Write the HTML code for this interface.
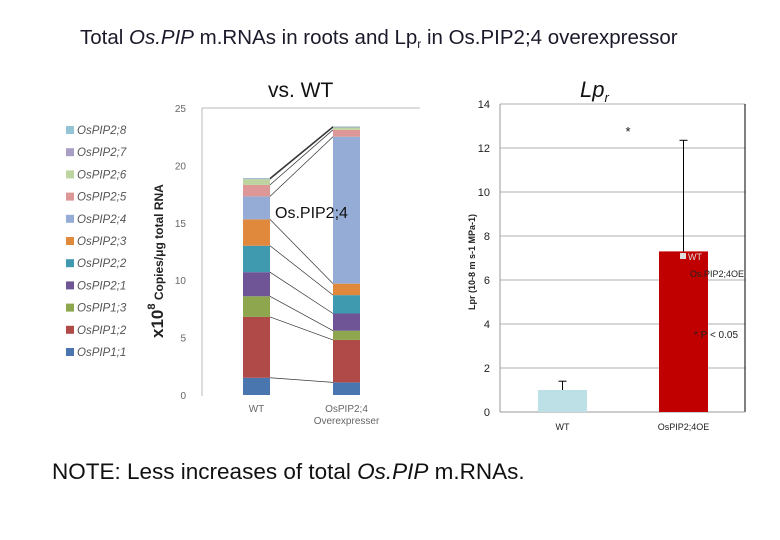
<!DOCTYPE html>
<html><head><meta charset="utf-8">
<style>
body{margin:0;background:#fff;width:780px;height:540px;overflow:hidden;font-family:"Liberation Sans",sans-serif}
svg{display:block}
</style></head>
<body>
<svg id="s" width="780" height="540" xmlns="http://www.w3.org/2000/svg">
<text x="80" y="44" font-size="20.5" fill="#1a1a2a" font-family="Liberation Sans, sans-serif">Total <tspan font-style="italic">Os.PIP</tspan> m.RNAs in roots and Lp<tspan font-size="12" dy="4">r</tspan><tspan dy="-4"> in Os.PIP2;4 overexpressor</tspan></text>
<text x="268" y="97" font-size="21" fill="#111">vs. WT</text>
<text x="580" y="97" font-size="22" font-style="italic" fill="#111">Lp<tspan font-size="13" dy="5">r</tspan></text>
<g id="left"></g>
<g id="right"></g>
<text x="52" y="479" font-size="22.5" fill="#111">NOTE: Less increases of total <tspan font-style="italic">Os.PIP</tspan> m.RNAs.</text>
</svg>
<script>
const genes=["OsPIP1;1","OsPIP1;2","OsPIP1;3","OsPIP2;1","OsPIP2;2","OsPIP2;3","OsPIP2;4","OsPIP2;5","OsPIP2;6","OsPIP2;7","OsPIP2;8"];
const colors=["#4a76b0","#b04a48","#8ea64e","#6f5596","#3f9aaf","#e0883c","#95add6","#dc9796","#bdd4a0","#a99ec4","#92c6d6"];
const wtValues=[1.5,5.3,1.8,2.1,2.3,2.3,2.0,1.0,0.5,0.05,0.05];
const oeValues=[1.1,3.7,0.8,1.5,1.6,1.0,12.8,0.6,0.2,0.05,0.05];
const leftTicks=[0,5,10,15,20,25];
const leftCats=["WT","OsPIP2;4|Overexpresser"];
const lpCats=["WT","OsPIP2;4OE"];
const lpValues=[1.0,7.3];
const lpErr=[0.4,5.05];
const lpTicks=[0,2,4,6,8,10,12,14];
const NS="http://www.w3.org/2000/svg";
function mk(p,t,a,txt){const e=document.createElementNS(NS,t);for(const k in a)e.setAttribute(k,a[k]);if(txt!==undefined)e.textContent=txt;p.appendChild(e);return e;}
const L=document.getElementById('left');
const ly=v=>395-v*11.48;
const barX=[243,333],bw=27;
let e=mk(L,'line',{x1:202,y1:108,x2:420,y2:108,stroke:'#bbb','stroke-width':1});

e=mk(L,'line',{x1:202,y1:108,x2:202,y2:396,stroke:'#bbb','stroke-width':1});

leftTicks.forEach(t=>{const el=mk(L,'text',{x:186,y:ly(t)+4,'font-size':10,fill:'#666','text-anchor':'end'},t);
});
const series=[wtValues,oeValues];
const tops=[[],[]];
series.forEach((vals,bi)=>{let c=0;vals.forEach((v,i)=>{const r=mk(L,'rect',{x:barX[bi],y:ly(c+v),width:bw,height:v*11.48,fill:colors[i]});

c+=v;tops[bi].push(c);});});
const conn=[[wtValues[0],oeValues[0]]];for(let i=1;i<tops[0].length;i++)conn.push([tops[0][i],tops[1][i]]);
conn.forEach(c=>{const l=mk(L,'line',{x1:barX[0]+bw,y1:ly(c[0]),x2:barX[1],y2:ly(c[1]),stroke:'#333','stroke-width':0.7});
});
leftCats.forEach((c,i)=>{const parts=c.split('|');parts.forEach((p,j)=>{const t=mk(L,'text',{x:barX[i]+bw/2,y:412+j*12,'font-size':10,fill:'#666','text-anchor':'middle'},p);
});});
e=mk(L,'text',{x:275,y:218,'font-size':16,fill:'#111'},'Os.PIP2;4');
e=mk(L,'text',{transform:'translate(163,338) rotate(-90)','font-size':12,'font-weight':'bold',fill:'#222'},'');
e.innerHTML='<tspan font-size="17">x10</tspan><tspan font-size="11" dy="-8">8</tspan><tspan dy="8">  Copies/μg total RNA</tspan>';

genes.slice().reverse().forEach((g,k)=>{const i=10-k;const y=130+k*22.2;
const r=mk(L,'rect',{x:66,y:y-4,width:8,height:8,fill:colors[i]});
const t=mk(L,'text',{x:77,y:y+4,'font-size':11.5,'font-style':'italic',fill:'#555'},g);});
const R=document.getElementById('right');
const ry=v=>412-v*22;
lpTicks.forEach(t=>{if(t>0){const g=mk(R,'line',{x1:500,y1:ry(t),x2:745,y2:ry(t),stroke:'#999','stroke-width':0.8});}
const tt=mk(R,'text',{x:490,y:ry(t)+4,'font-size':11,fill:'#222','text-anchor':'end'},t);});
e=mk(R,'line',{x1:500,y1:104,x2:500,y2:412,stroke:'#999'});
e=mk(R,'line',{x1:745,y1:104,x2:745,y2:412,stroke:'#000'});
e=mk(R,'line',{x1:500,y1:412,x2:745,y2:412,stroke:'#999'});
const rx=[538,659],rcol=['#bde0e6','#c00000'];
lpValues.forEach((v,i)=>{const b=mk(R,'rect',{x:rx[i],y:ry(v),width:49,height:v*22,fill:rcol[i]});
const cx=rx[i]+24.5,top=ry(v+lpErr[i]);
const l=mk(R,'line',{x1:cx,y1:ry(v),x2:cx,y2:top,stroke:'#000','stroke-width':1});
const c=mk(R,'line',{x1:cx-4,y1:top,x2:cx+4,y2:top,stroke:'#000','stroke-width':1});
const t=mk(R,'text',{x:cx,y:430,'font-size':9,fill:'#222','text-anchor':'middle'},lpCats[i]);});
e=mk(R,'text',{x:628,y:136,'font-size':13,fill:'#111','text-anchor':'middle'},'*');
e=mk(R,'rect',{x:680,y:253,width:6,height:6,fill:'#ddd'});
e=mk(R,'text',{x:688,y:260,'font-size':9,fill:'#ddd'},'WT');
e=mk(R,'text',{x:690,y:277,'font-size':9,fill:'#222'},'Os.PIP2;4OE');
e=mk(R,'text',{x:694,y:338,'font-size':10,fill:'#222'},'*  P < 0.05');
e=mk(R,'text',{transform:'translate(475,310) rotate(-90)','font-size':9,'font-weight':'bold',fill:'#222'},'Lpr (10-8 m s-1 MPa-1)');
</script>
</body></html>
